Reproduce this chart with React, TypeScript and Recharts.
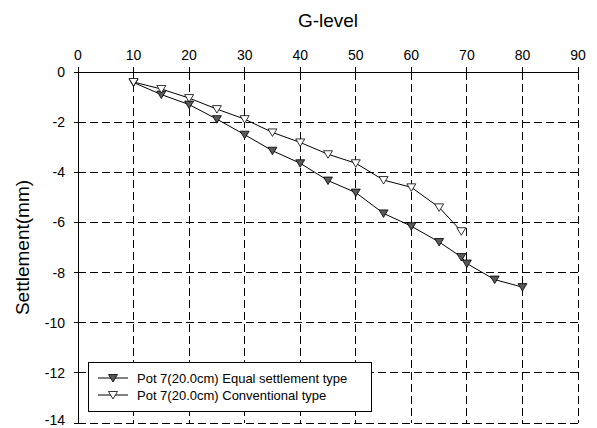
import React from 'react';
import { LineChart, Line, XAxis, YAxis, CartesianGrid, Legend } from 'recharts';

// ---- data ----
const gLevelEqual = [10, 15, 20, 25, 30, 35, 40, 45, 50, 55, 60, 65, 69, 70, 75, 80];
const settlementEqual = [-0.42, -0.9, -1.3, -1.88, -2.5, -3.14, -3.64, -4.33, -4.81, -5.64, -6.15, -6.78, -7.38, -7.64, -8.28, -8.58];

const gLevelConventional = [10, 15, 20, 25, 30, 35, 40, 45, 50, 55, 60, 65, 69];
const settlementConventional = [-0.4, -0.68, -1.04, -1.48, -1.88, -2.41, -2.81, -3.28, -3.64, -4.31, -4.6, -5.4, -6.35];

const seriesNames = ['Pot 7(20.0cm) Equal settlement type', 'Pot 7(20.0cm) Conventional type'];
const seriesFills = ['#595959', '#ffffff'];

const xTicks = [0, 10, 20, 30, 40, 50, 60, 70, 80, 90];
const yTicks = [0, -2, -4, -6, -8, -10, -12, -14];
const xMinorTicks: number[] = [];
for (let v = 0; v <= 90; v += 2) xMinorTicks.push(v);
const yMinorTicks: number[] = [];
for (let v = 0; v >= -14; v -= 0.5) yMinorTicks.push(v);

const xTitle = 'G-level';
const yTitle = 'Settlement(mm)';

const equalData = gLevelEqual.map((g, i) => ({ g, s: settlementEqual[i] }));
const conventionalData = gLevelConventional.map((g, i) => ({ g, s: settlementConventional[i] }));

const FONT = '"Liberation Sans", Arial, Helvetica, sans-serif';

const makeDot = (fill: string) => (props: any) => {
  const { cx, cy, index } = props;
  if (cx == null || cy == null) return <g key={index} />;
  return (
    <polygon
      key={index}
      points={`${cx - 4.5},${cy - 3.5} ${cx + 4.5},${cy - 3.5} ${cx},${cy + 4}`}
      fill={fill}
      stroke="#000"
      strokeWidth={0.8}
    />
  );
};

const LegendContent = () => (
  <div
    style={{
      boxSizing: 'border-box',
      width: 284,
      height: 50,
      border: '1px solid #000',
      background: '#fff',
      paddingTop: 7,
      paddingLeft: 9,
      fontFamily: FONT,
      fontSize: 13,
      color: '#000',
    }}
  >
    {seriesNames.map((name, i) => (
      <div key={name} style={{ display: 'flex', alignItems: 'center', height: 17, whiteSpace: 'nowrap' }}>
        <svg width={30} height={17} style={{ marginRight: 9, flex: 'none' }}>
          <line x1={0} y1={8} x2={30} y2={8} stroke="#000" strokeWidth={1} />
          <polygon points={`10.5,4.5 19.5,4.5 15,12`} fill={seriesFills[i]} stroke="#000" strokeWidth={0.8} />
        </svg>
        <span style={{ lineHeight: '17px' }}>{name}</span>
      </div>
    ))}
  </div>
);

const xTitleLabel = (props: any) => {
  const vb = props.viewBox || {};
  return (
    <text
      x={vb.x + vb.width / 2}
      y={vb.y + 27}
      textAnchor="middle"
      fontFamily={FONT}
      fontSize={19}
      fill="#000"
    >
      {xTitle}
    </text>
  );
};

const yTitleLabel = (props: any) => {
  const vb = props.viewBox || {};
  const cx = vb.x + 22.5;
  const cy = vb.y + vb.height / 2;
  return (
    <text
      x={cx}
      y={cy}
      transform={`rotate(-90, ${cx}, ${cy})`}
      textAnchor="middle"
      dominantBaseline="central"
      fontFamily={FONT}
      fontSize={19}
      fill="#000"
    >
      {yTitle}
    </text>
  );
};

const tickStyle = { fontFamily: FONT, fontSize: 14, fill: '#000' };
const axisStroke = { stroke: '#000', strokeWidth: 1, shapeRendering: 'crispEdges' };

export default function App() {
  return (
    <div style={{ position: 'absolute', left: 0, top: 0, background: '#fff' }}>
      <LineChart width={597} height={428} margin={{ top: 0, right: 19, bottom: 5, left: 0 }}>
        <CartesianGrid stroke="#000" strokeDasharray="8 4" strokeWidth={1} shapeRendering="crispEdges" />
        <XAxis
          xAxisId={0}
          type="number"
          dataKey="g"
          orientation="top"
          domain={[0, 90]}
          ticks={xTicks}
          height={72}
          tickSize={5}
          tickMargin={7}
          fontSize={14}
          tick={tickStyle}
          axisLine={axisStroke}
          tickLine={axisStroke}
          label={xTitleLabel}
        />
        <XAxis
          xAxisId="minorTop"
          type="number"
          orientation="top"
          mirror
          height={0}
          domain={[0, 90]}
          ticks={xMinorTicks}
          tickSize={4}
          tick={false}
          axisLine={false}
          tickLine={axisStroke}
        />
        <XAxis
          xAxisId="bottom"
          type="number"
          orientation="bottom"
          mirror
          height={0}
          domain={[0, 90]}
          ticks={xTicks}
          tickSize={5}
          tick={false}
          axisLine={axisStroke}
          tickLine={axisStroke}
        />
        <YAxis
          yAxisId={0}
          type="number"
          dataKey="s"
          orientation="left"
          domain={[-14, 0]}
          ticks={yTicks}
          width={78}
          tickSize={4}
          tickMargin={9}
          fontSize={14}
          tick={tickStyle}
          axisLine={axisStroke}
          tickLine={axisStroke}
          label={yTitleLabel}
        />
        <YAxis
          yAxisId="minorLeft"
          type="number"
          orientation="left"
          mirror
          width={0}
          domain={[-14, 0]}
          ticks={yMinorTicks}
          tickSize={4}
          tick={false}
          axisLine={false}
          tickLine={axisStroke}
        />
        <YAxis
          yAxisId="right"
          type="number"
          orientation="right"
          width={0}
          domain={[-14, 0]}
          ticks={yTicks}
          tick={false}
          tickLine={false}
          axisLine={axisStroke}
        />
        <Legend
          layout="vertical"
          align="center"
          verticalAlign="middle"
          wrapperStyle={{ left: 88, top: 362, width: 284, height: 50 }}
          content={LegendContent}
        />
        <Line
          data={equalData}
          dataKey="s"
          name={seriesNames[0]}
          xAxisId={0}
          yAxisId={0}
          stroke="#000"
          strokeWidth={1}
          dot={makeDot(seriesFills[0])}
          activeDot={false}
          isAnimationActive={false}
        />
        <Line
          data={conventionalData}
          dataKey="s"
          name={seriesNames[1]}
          xAxisId={0}
          yAxisId={0}
          stroke="#000"
          strokeWidth={1}
          dot={makeDot(seriesFills[1])}
          activeDot={false}
          isAnimationActive={false}
        />
      </LineChart>
    </div>
  );
}
